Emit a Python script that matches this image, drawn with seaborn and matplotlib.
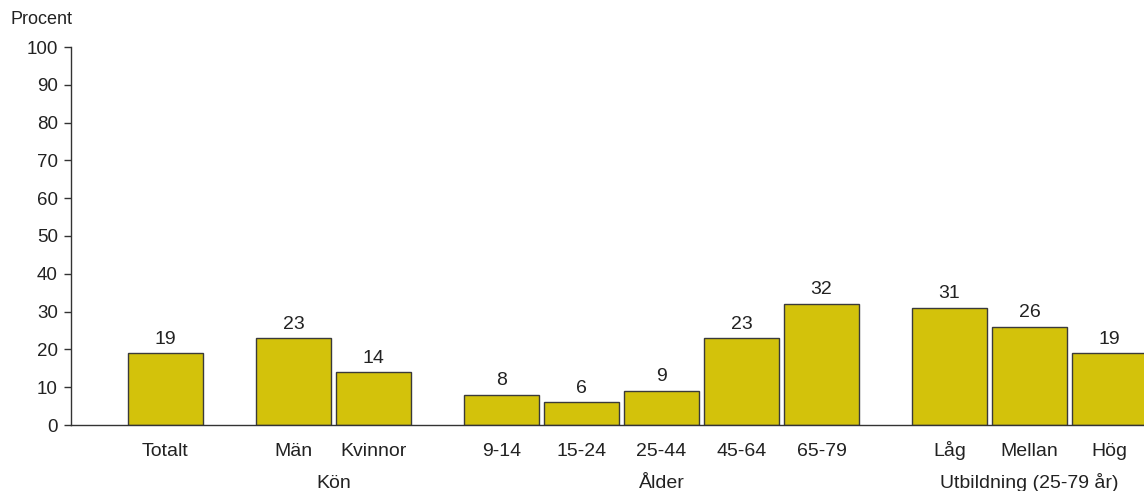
import matplotlib
matplotlib.use("Agg")
import matplotlib.pyplot as plt
import seaborn as sns
import pandas as pd

categories = ["Totalt", "Män", "Kvinnor", "9-14", "15-24", "25-44", "45-64", "65-79", "Låg", "Mellan", "Hög"]
values = [19, 23, 14, 8, 6, 9, 23, 32, 31, 26, 19]
groups = ["", "Kön", "Kön", "Ålder", "Ålder", "Ålder", "Ålder", "Ålder",
          "Utbildning (25-79 år)", "Utbildning (25-79 år)", "Utbildning (25-79 år)"]
y_ticks = [0, 10, 20, 30, 40, 50, 60, 70, 80, 90, 100]
y_label = "Procent"

sns.set_theme(style="white")
plt.rcParams["font.family"] = ["Liberation Sans", "DejaVu Sans"]

# positions: one slot per bar, extra gap between groups
GAP = 0.6
pos = []
p = 0.0
for i, g in enumerate(groups):
    if i > 0:
        p += 1.0 + (GAP if g != groups[i - 1] else 0.0)
    pos.append(p)

df = pd.DataFrame({"pos": pos, "value": values, "cat": categories, "group": groups})

fig = plt.figure(figsize=(11.44, 4.91), dpi=100)
ax = fig.add_axes([71 / 1144, 66 / 491, 1 - 71 / 1144, 378 / 491])

sns.barplot(data=df, x="pos", y="value", native_scale=True, width=0.9375,
            color="#D3C20B", edgecolor="#3a3a3a", linewidth=1.0, saturation=1,
            errorbar=None, ax=ax)

TXT = "#222222"
for c in ax.containers:
    ax.bar_label(c, labels=[str(v) for v in values], padding=4, fontsize=14, color=TXT)

ax.set_xlim(-1.18, 12.23)
ax.set_ylim(0, 100)
ax.set_yticks(y_ticks)
ax.set_yticklabels([str(t) for t in y_ticks], fontsize=13.5, color=TXT)
ax.tick_params(axis="y", length=5, width=1, color="#333333", pad=4.5, left=True)
ax.set_xticks(pos)
ax.set_xticklabels(categories, fontsize=14, color=TXT)
for lab in ax.get_xticklabels():
    lab.set_verticalalignment("baseline")
ax.tick_params(axis="x", length=0, pad=22.5)
ax.set_xlabel("")
ax.set_ylabel("")

for s in ["top", "right"]:
    ax.spines[s].set_visible(False)
for s in ["left", "bottom"]:
    ax.spines[s].set_color("#333333")
    ax.spines[s].set_linewidth(1.0)

# group labels
for g in dict.fromkeys(groups):
    if not g:
        continue
    xs = [pp for pp, gg in zip(pos, groups) if gg == g]
    cx = (min(xs) + max(xs)) / 2
    ax.text(cx, -16.6, g, ha="center", va="baseline", fontsize=14, color=TXT,
            transform=ax.transData, clip_on=False)

fig.text(10 / 1144, 1 - 20 / 491, y_label, ha="left", va="center", fontsize=13, color=TXT)

fig.savefig("out.png", dpi=100)
